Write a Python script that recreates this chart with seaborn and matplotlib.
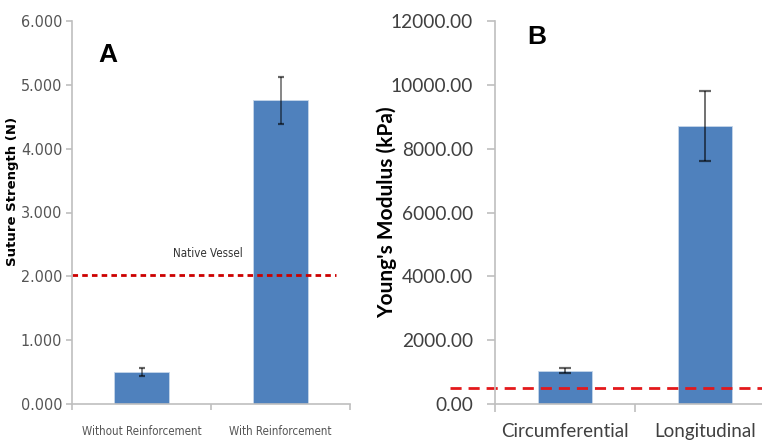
import matplotlib
matplotlib.use("Agg")
import matplotlib.pyplot as plt
import matplotlib.ticker as mticker
import seaborn as sns
import pandas as pd

# Panel A: suture retention strength
suture_groups = ["Without Reinforcement", "With Reinforcement"]
suture_mean = [0.50, 4.76]
suture_err = [0.06, 0.37]
native_suture = 2.02

# Panel B: Young's modulus by direction
modulus_groups = ["Circumferential", "Longitudinal"]
modulus_mean = [1040.0, 8700.0]
modulus_err = [80.0, 1100.0]
native_modulus = 500.0

sns.set_theme(style="white")
plt.rcParams["font.family"] = ["DejaVu Sans"]

BAR = "#4f81bd"
AXIS = "#bfbfbf"
NARROW = dict(family="DejaVu Sans", stretch="condensed")
LATO = dict(family=["Lato", "DejaVu Sans"])

fig = plt.figure(figsize=(7.62, 4.43), dpi=100)
axA = fig.add_axes([72 / 762, 1 - 404 / 443, 278 / 762, 383 / 443])
axB = fig.add_axes([495 / 762, 1 - 404 / 443, 280 / 762, 383 / 443])


def style_axes(ax, labels, font, xsize, ysize, ypad, xpad, color, ticklen):
    for s in ["top", "right"]:
        ax.spines[s].set_visible(False)
    for s in ["left", "bottom"]:
        ax.spines[s].set_color(AXIS)
        ax.spines[s].set_linewidth(1.2)
    ax.set_xlim(-0.5, 1.5)
    ax.set_xticks([-0.5, 0.5, 1.5])
    ax.set_xticklabels([])
    ax.set_xticks([0, 1], minor=True)
    ax.set_xticklabels(labels, minor=True, fontsize=xsize, color=color, **font)
    ax.tick_params(axis="x", which="major", length=ticklen, width=1.2, color=AXIS,
                   direction="out", bottom=True)
    ax.tick_params(axis="x", which="minor", length=0, pad=xpad, bottom=True)
    ax.tick_params(axis="y", which="major", length=ticklen, width=1.2, color=AXIS,
                   direction="out", left=True, labelcolor=color, labelsize=ysize, pad=ypad)
    for t in ax.get_yticklabels():
        t.set(**font)
    ax.set_xlabel("")


# ---- Panel A ----
dfA = pd.DataFrame({"group": suture_groups, "value": suture_mean})
sns.barplot(data=dfA, x="group", y="value", ax=axA, color=BAR, width=0.4,
            errorbar=None, saturation=1, edgecolor="#c6d6ea", linewidth=0.6)
axA.errorbar(range(len(suture_mean)), suture_mean, yerr=suture_err, fmt="none",
             ecolor=(0, 0, 0, 0.6), elinewidth=1.1, capsize=2, capthick=1.6)
axA.axhline(native_suture, xmin=0, xmax=0.95, color="#cc0000", lw=2, dashes=(2, 1.5))
axA.text(0.48, native_suture + 0.33, "Native Vessel", fontsize=8.3,
         color="#333333", ha="center", va="center", **NARROW)
axA.set_ylim(0, 6)
axA.yaxis.set_major_locator(mticker.MultipleLocator(1))
axA.yaxis.set_major_formatter(mticker.FormatStrFormatter("%.3f"))
style_axes(axA, suture_groups, NARROW, 8.3, 11.5, 3, 15, "#555555", 4)
axA.set_ylabel("Suture Strength (N)", family="DejaVu Sans", fontweight="bold",
               fontsize=9.5, color="black")
axA.yaxis.set_label_coords(-0.19, 0.555)
fig.text(108 / 762, 1 - 55 / 443, "A", family="Liberation Sans", fontweight="bold",
         fontsize=19, ha="center", va="center", color="black")

# ---- Panel B ----
dfB = pd.DataFrame({"group": modulus_groups, "value": modulus_mean})
sns.barplot(data=dfB, x="group", y="value", ax=axB, color=BAR, width=0.39,
            errorbar=None, saturation=1, edgecolor="#c6d6ea", linewidth=0.6)
axB.errorbar(range(len(modulus_mean)), modulus_mean, yerr=modulus_err, fmt="none",
             ecolor=(0, 0, 0, 0.6), elinewidth=1.3, capsize=4, capthick=1.6)
axB.axhline(native_modulus, xmin=-0.16, xmax=1.0, color="#e3191c", lw=2,
            dashes=(4, 2.5), clip_on=False)
axB.set_ylim(0, 12000)
axB.yaxis.set_major_locator(mticker.MultipleLocator(2000))
axB.yaxis.set_major_formatter(mticker.FormatStrFormatter("%.2f"))
style_axes(axB, modulus_groups, LATO, 13.5, 13.8, 10, 14, "#404040", 6)
axB.set_ylabel("Young's Modulus (kPa)", fontweight="bold", fontsize=15,
               color="black", **LATO)
axB.yaxis.set_label_coords(-0.35, 0.5)
fig.text(537 / 762, 1 - 37 / 443, "B", family="Liberation Sans", fontweight="bold",
         fontsize=19, ha="center", va="center", color="black")

fig.savefig("out.png", dpi=100, facecolor="white")
